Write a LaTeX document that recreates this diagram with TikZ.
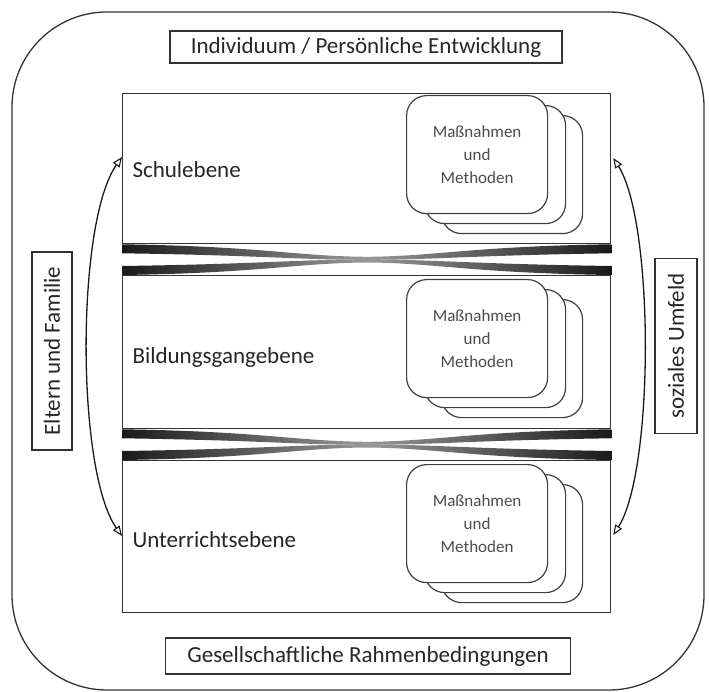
\documentclass[tikz,border=0pt]{standalone}
\usepackage{fontspec}
\setmainfont{Carlito}
\usetikzlibrary{arrows.meta,calc}
\begin{document}
\begin{tikzpicture}[x=1pt,y=-1pt,
  lvl/.style={draw=black!80, line width=1.3pt, minimum width=488pt, anchor=north west, inner sep=0pt},
  lbl/.style={draw=black!80, line width=1.2pt, inner sep=0pt, font=\fontsize{23}{26}\selectfont, text=black!85},
  lvltext/.style={anchor=west, font=\fontsize{23}{26}\selectfont, text=black!85},
  card/.style={draw=black!75, line width=1.2pt, fill=white, rounded corners=20pt, minimum width=141pt, minimum height=118pt, anchor=north west, inner sep=0pt},
  cardtext/.style={align=center, font=\fontsize{17}{23}\selectfont, text=black!70},
  sep/.style={left color=black!90, right color=black!90, middle color=black!40, draw=none},
  sidearrow/.style={line width=1.3pt, black!90, {Triangle[open,length=10pt,width=8pt,line width=1.1pt]}-{Triangle[open,length=10pt,width=8pt,line width=1.1pt]}}
]
\useasboundingbox (0,0) rectangle (709,692);
% outer frame
\draw[line width=1.3pt, black!80, rounded corners=95pt] (12,12) rectangle (704,690);

% labels
\node[lbl, minimum width=392pt, minimum height=32pt] (indiv) at (366,47) {Individuum / Persönliche Entwicklung};
\node[lbl, minimum width=405pt, minimum height=36pt] (gesell) at (368,656) {Gesellschaftliche Rahmenbedingungen};
\node[lbl, rotate=90, minimum width=198pt, minimum height=40pt] (eltern) at (52,351) {Eltern und Familie};
\node[lbl, rotate=90, minimum width=175pt, minimum height=42pt] (sozial) at (676,346) {soziales Umfeld};

% level boxes
\node[lvl, minimum height=150pt] (schule) at (122,93) {};
\node[lvl, minimum height=153pt] (bildung) at (122,275) {};
\node[lvl, minimum height=152pt] (unterricht) at (122,460) {};

\node[lvltext] (tschule) at (129,170) {Schulebene};
\node[lvltext] (tbildung) at (129,357) {Bildungsgangebene};
\node[lvltext] (tunterricht) at (129,540) {Unterrichtsebene};

% card stacks
\foreach \n/\y in {a/95, b/279, c/464}{
  \node[card] (\n3) at (441,\y+20) {};
  \node[card] (\n2) at (424,\y+10) {};
  \node[card] (\n1) at (406,\y) {};
  \node[cardtext] (\n t) at (\n1.center) {Maßnahmen\\und\\Methoden};
}

% separators (flattened double arrows)
\foreach \u/\l in {schule/bildung, bildung/unterricht}{
  \shade[sep] (\u.south west) .. controls ($(\u.south west)+(140,2)$) and ($(\u.south)+(-70,12)$) .. ($(\u.south)+(0,12.5)$)
     .. controls ($(\u.south)+(70,12)$) and ($(\u.south east)+(-140,2)$) .. (\u.south east)
     -- ($(\u.south east)+(0,9)$)
     .. controls ($(\u.south east)+(-140,11)$) and ($(\u.south)+(70,15.5)$) .. ($(\u.south)+(0,15.5)$)
     .. controls ($(\u.south)+(-70,15.5)$) and ($(\u.south west)+(140,11)$) .. ($(\u.south west)+(0,9)$) -- cycle;
  \shade[sep] (\l.north west) .. controls ($(\l.north west)+(140,-2)$) and ($(\l.north)+(-70,-12)$) .. ($(\l.north)+(0,-12.5)$)
     .. controls ($(\l.north)+(70,-12)$) and ($(\l.north east)+(-140,-2)$) .. (\l.north east)
     -- ($(\l.north east)+(0,-9)$)
     .. controls ($(\l.north east)+(-140,-11)$) and ($(\l.north)+(70,-15.5)$) .. ($(\l.north)+(0,-15.5)$)
     .. controls ($(\l.north)+(-70,-15.5)$) and ($(\l.north west)+(140,-11)$) .. ($(\l.north west)+(0,-9)$) -- cycle;
}

% side arrows
\coordinate (lt) at ($(schule.north west)+(0,64)$);
\coordinate (lb) at ($(unterricht.north west)+(0,76)$);
\coordinate (rt) at ($(schule.north east)+(2,65)$);
\coordinate (rb) at ($(unterricht.north east)+(2,75)$);
\draw[sidearrow] (lt) .. controls ($(lt)+(-46,65)$) and ($(lb)+(-46,-65)$) .. (lb);
\draw[sidearrow] (rt) .. controls ($(rt)+(41,65)$) and ($(rb)+(41,-65)$) .. (rb);
\end{tikzpicture}
\end{document}
